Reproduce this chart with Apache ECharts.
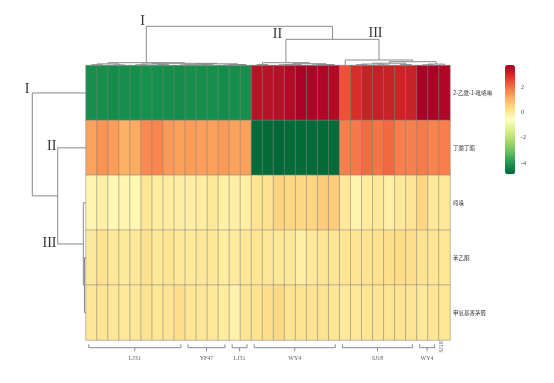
<!DOCTYPE html>
<html><head><meta charset="utf-8">
<script src="https://cdn.jsdelivr.net/npm/echarts@6/dist/echarts.min.js"></script>
<style>html,body{margin:0;padding:0;background:#fff}#c{width:554px;height:383px}</style>
</head><body><div id="c"></div>
<script>
// ---------------- data ----------------
const rowNames = ['2-乙酰-1-吡咯啉', '丁酸丁酯', '吲哚', '苯乙酮', '甲氧基香茅醛'];
const colNames = ['c1','c2','c3','c4','c5','c6','c7','c8','c9','c10','c11','c12','c13','c14','c15','c16','c17',
  'c18','c19','c20','c21','c22','c23','c24','c25','c26','c27','c28','c29','c30','c31','c32','c33'];

const row0 = [-4.2,-4.2,-4.25,-4.2,-4.2,-4.15,-4.2,-4.2,-4.25,-4.2,-4.2,-4.2,-4.25,-4.2,-4.2,
  3.42,3.42,3.47,3.55,3.7,3.65,3.6,3.55,
  2.38,2.9,3.14,3.2,3.14,3.1,3.14,3.7,3.7,3.6];
const row1 = [1.3,1.5,1.38,1.1,1.2,1.65,1.68,1.42,1.33,1.38,1.36,1.33,1.42,1.3,1.33,
  -4.85,-4.85,-4.9,-4.85,-4.85,-4.85,-4.85,-4.85,
  1.78,1.85,2.05,1.92,2.08,1.78,1.75,1.83,1.72,1.78];
const row2 = [-0.3,-0.16,-0.38,-0.3,-0.4,0.12,-0.07,-0.07,-0.1,-0.12,-0.1,0.03,-0.16,-0.12,-0.14,
  0.15,0.24,0.5,0.45,0.42,0.48,0.65,0.64,
  0.03,-0.27,-0.02,0.03,-0.16,0.06,0.15,0.45,0.03,0.04];
const row3 = [0.0,0.24,0.07,0.02,0.07,0.26,0.04,0.15,0.04,0.02,0.03,0.07,-0.04,0.02,0.07,
  0.12,0.07,0.07,0.04,-0.16,0.04,0.12,0.14,
  0.15,0.15,0.21,0.24,0.31,0.35,0.29,0.21,0.15,0.12];
const row4 = [0.1,0.12,0.07,0.04,0.07,0.18,0.12,0.15,0.29,0.12,0.08,0.04,-0.04,-0.22,0.15,
  0.21,0.29,0.4,0.21,0.21,0.18,0.18,0.15,
  0.03,0.06,0.12,0.12,0.15,0.15,0.15,0.05,0.12,0.12];
const rows = [row0, row1, row2, row3, row4];

// column clustering: [childA, childB, height]; leaves 0..32, merge k gets id 33+k
const colMerges = [
  [0,1,0.8],[2,3,0.6],[33,34,1.6],[4,5,0.7],[6,7,0.9],[36,37,1.5],[8,9,0.6],[10,11,0.8],
  [39,40,1.2],[12,13,0.5],[42,14,1.0],[41,43,1.7],[38,44,2.2],[35,45,2.8],
  [15,16,0.9],[17,18,0.7],[48,19,1.1],[20,21,0.6],[50,22,1.0],[49,51,1.8],[47,52,2.8],
  [24,25,0.8],[26,27,0.6],[54,55,1.5],[28,29,0.9],[56,57,2.3],[30,31,0.7],[59,32,1.4],
  [58,60,3.8],[23,61,5.5],[53,62,26.2],[46,63,39.2]
];
// row clustering: leaves 0..4, merge k gets id 5+k
const rowMerges = [[3,4,1.5],[2,5,2.7],[1,6,28.3],[0,7,53.7]];

const groupNames = ['LJ31','YF47','LJ31','WY4','SJ18','WY4','SJ18'];
const groupStart = [0,9,13,15,23,30,32];
const groupEnd   = [8,12,14,22,29,31,32];

const colorTicks = [-4,-2,0,2];
const vMin = -4.9, vMax = 3.75;
const palette = ['#006837','#1a9850','#66bd63','#a6d96a','#d9ef8b','#ffffbf','#fee08b','#fdae61','#f46d43','#d73027','#a50026'];

// ---------------- build ----------------
function dendro(merges, n){
  const pos = [], ht = [], segs = [];
  for (let i = 0; i < n; i++){ pos.push(i + 0.5); ht.push(0); }
  merges.forEach(([a,b,h]) => {
    segs.push([[pos[a],ht[a]],[pos[a],h],[pos[b],h],[pos[b],ht[b]]]);
    pos.push((pos[a]+pos[b])/2); ht.push(h);
  });
  return segs;
}
const heatData = [];
rows.forEach((r, y) => r.forEach((v, x) => heatData.push([x, y, v])));

const topSegs = dendro(colMerges, colNames.length).map(c => ({coords: c}));
const leftSegs = dendro(rowMerges, rowNames.length).map(c => ({coords: c.map(p => [p[1], p[0]])}));

const bracketSegs = [], groupLabels = [];
groupNames.forEach((g, i) => {
  const s = groupStart[i] + 0.25, e = groupEnd[i] + 0.6, c = (s + e) / 2;
  if (groupStart[i] === groupEnd[i]) {
    groupLabels.push({name: g, value: [groupStart[i] + 0.25, 7], label: {rotate: 90}});
  } else {
    bracketSegs.push({coords: [[s,4.3],[s,7.7],[e,7.7],[e,4.3]]});
    bracketSegs.push({coords: [[c,7.7],[c,11.3]]});
    groupLabels.push({name: g, value: [c, 18.3]});
  }
});

const chart = echarts.init(document.getElementById('c'), null, {renderer: 'canvas'});
const lineStyle = {color: '#8a8a8a', width: 1, opacity: 1};
const serif = '"Liberation Serif", "DejaVu Serif", serif';
chart.setOption({
  animation: false,
  backgroundColor: '#fff',
  grid: [
    {left: 86, top: 65.5, width: 364, height: 274.5},
    {left: 86, top: 15.5, width: 364, height: 50},
    {left: 0, top: 65.5, width: 86, height: 274.5},
    {left: 86, top: 340, width: 364, height: 25},
    {left: 505, top: 65, width: 10, height: 109.3}
  ],
  xAxis: [
    {gridIndex: 0, type: 'category', data: colNames, axisLine: {show: false}, axisTick: {show: false}, axisLabel: {show: false}, splitLine: {show: false}},
    {gridIndex: 1, type: 'value', min: 0, max: 33, show: false},
    {gridIndex: 2, type: 'value', min: 0, max: 86, inverse: true, show: false},
    {gridIndex: 3, type: 'value', min: 0, max: 33, show: false},
    {gridIndex: 4, type: 'value', min: 0, max: 1, show: false}
  ],
  yAxis: [
    {gridIndex: 0, type: 'category', data: rowNames, inverse: true, position: 'right',
      axisLine: {show: false}, axisTick: {show: false}, splitLine: {show: false},
      axisLabel: {fontSize: 5.5, color: '#333', margin: 3, fontFamily: '"Noto Sans CJK SC", sans-serif'}},
    {gridIndex: 1, type: 'value', min: 0, max: 50, show: false},
    {gridIndex: 2, type: 'value', min: 0, max: 5, inverse: true, show: false},
    {gridIndex: 3, type: 'value', min: 0, max: 25, inverse: true, show: false},
    {gridIndex: 4, type: 'value', min: vMin, max: vMax, position: 'right',
      axisLine: {show: false}, axisTick: {show: false}, splitLine: {show: false},
      axisLabel: {customValues: colorTicks, fontSize: 6, color: '#444', margin: 6, fontFamily: serif}}
  ],
  visualMap: {
    type: 'continuous', seriesIndex: 0, dimension: 2, min: vMin, max: vMax,
    inRange: {color: palette}, orient: 'vertical', left: 505, top: 65,
    itemWidth: 10, itemHeight: 109.3, calculable: false, padding: 0, hoverLink: false,
    text: null
  },
  graphic: [
    {type: 'text', left: null, x: 142.5, y: 21.7, style: {text: 'I', font: '14px ' + serif, fill: '#333', align: 'center', verticalAlign: 'middle'}},
    {type: 'text', x: 277.5, y: 34.2, style: {text: 'II', font: '14px ' + serif, fill: '#333', align: 'center', verticalAlign: 'middle'}},
    {type: 'text', x: 375.5, y: 33.8, style: {text: 'III', font: '14px ' + serif, fill: '#333', align: 'center', verticalAlign: 'middle'}},
    {type: 'text', x: 27.2, y: 89.7, style: {text: 'I', font: '14px ' + serif, fill: '#333', align: 'center', verticalAlign: 'middle'}},
    {type: 'text', x: 51.7, y: 146.2, style: {text: 'II', font: '14px ' + serif, fill: '#333', align: 'center', verticalAlign: 'middle'}},
    {type: 'text', x: 49.5, y: 243.7, style: {text: 'III', font: '14px ' + serif, fill: '#333', align: 'center', verticalAlign: 'middle'}}
  ],
  series: [
    {type: 'heatmap', xAxisIndex: 0, yAxisIndex: 0, data: heatData, silent: true,
      itemStyle: {borderColor: 'rgba(130,130,130,0.75)', borderWidth: 0.7},
      emphasis: {disabled: true}},
    {type: 'lines', coordinateSystem: 'cartesian2d', xAxisIndex: 1, yAxisIndex: 1, polyline: true, silent: true,
      data: topSegs, lineStyle: lineStyle},
    {type: 'lines', coordinateSystem: 'cartesian2d', xAxisIndex: 2, yAxisIndex: 2, polyline: true, silent: true,
      data: leftSegs, lineStyle: lineStyle},
    {type: 'lines', coordinateSystem: 'cartesian2d', xAxisIndex: 3, yAxisIndex: 3, polyline: true, silent: true,
      data: bracketSegs, lineStyle: lineStyle},
    {type: 'scatter', xAxisIndex: 3, yAxisIndex: 3, symbolSize: 0, silent: true, data: groupLabels,
      label: {show: true, position: 'inside', formatter: p => p.name, fontSize: 6, color: '#333', fontFamily: serif}}
  ]
});
</script></body></html>
